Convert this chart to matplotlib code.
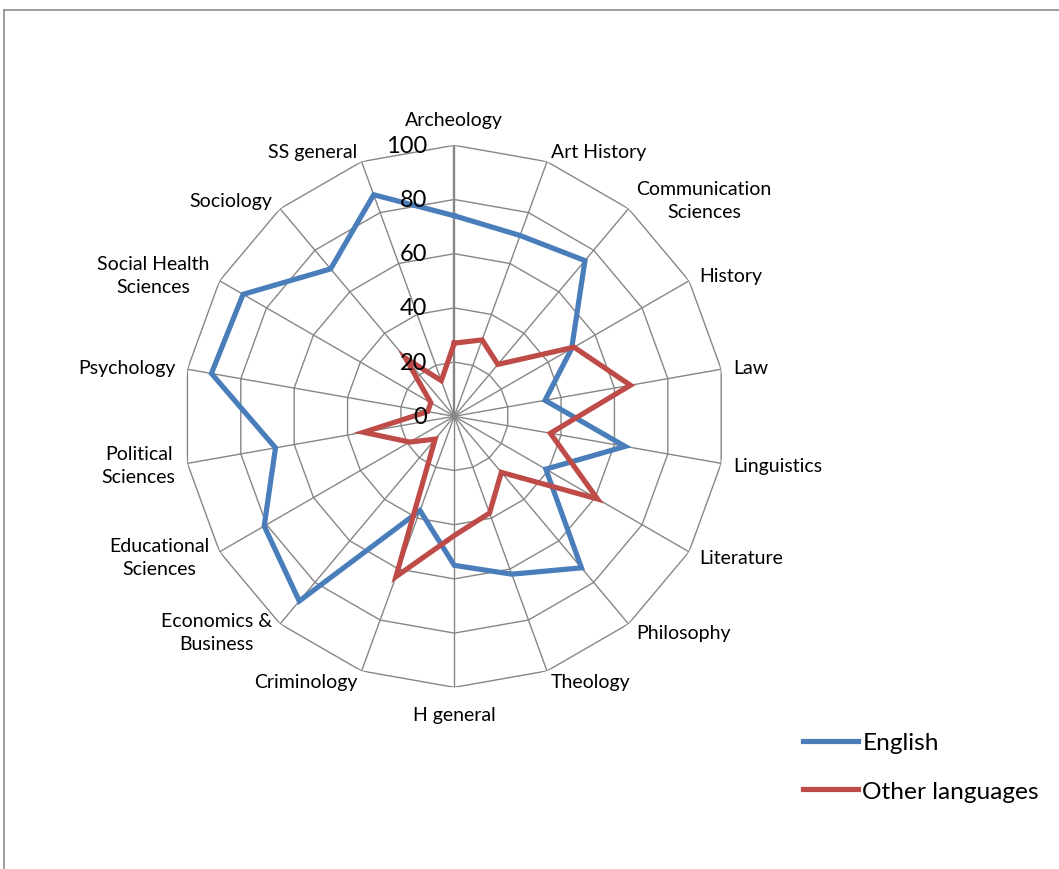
import numpy as np
import matplotlib
matplotlib.use("Agg")
import matplotlib.pyplot as plt
from matplotlib.lines import Line2D

categories = ["Archeology", "Art History", "Communication\nSciences", "History", "Law",
              "Linguistics", "Literature", "Philosophy", "Theology", "H general",
              "Criminology", "Economics &\nBusiness", "Educational\nSciences",
              "Political\nSciences", "Psychology", "Social Health\nSciences",
              "Sociology", "SS general"]
english = [74, 71, 75, 50, 34, 64, 39, 73, 62, 55, 37, 89, 81, 67, 91, 90, 71, 87]
other_languages = [27, 30, 25, 51, 66, 36, 61, 27, 38, 44, 63, 11, 19, 34, 10, 10, 28, 14]
radial_ticks = [0, 20, 40, 60, 80, 100]
series_names = ["English", "Other languages"]

FONT = ["Lato", "DejaVu Sans"]
plt.rcParams["font.family"] = FONT

W, H, DPI = 1059, 870, 100
fig = plt.figure(figsize=(W / DPI, H / DPI), dpi=DPI)
fig.patch.set_facecolor("white")

cx, cy, R = 454.3, 417.3, 271.0
ax = fig.add_axes([(cx - R) / W, (H - cy - R) / H, 2 * R / W, 2 * R / H], projection="polar")
ax.set_theta_zero_location("N")
ax.set_theta_direction(-1)
ax.set_ylim(0, 100)
ax.grid(False)
ax.spines["polar"].set_visible(False)
ax.set_xticks([])
ax.set_yticks([])
ax.patch.set_alpha(0)

n = len(categories)
theta = np.linspace(0, 2 * np.pi, n, endpoint=False)
theta_closed = np.append(theta, theta[0])
grid_col = "#868686"

# polygon grid
for v in radial_ticks[1:]:
    ax.plot(theta_closed, [v] * (n + 1), color=grid_col, lw=1.0, zorder=1)
# spokes
for i, t in enumerate(theta):
    ax.plot([t, t], [0, 100], color=grid_col, lw=1.7 if i == 0 else 1.0, zorder=1)

px = 0.72  # points per pixel
l1, = ax.plot(theta_closed, english + english[:1], color="#4A7EBB", lw=5.2 * px,
              solid_joinstyle="miter", zorder=3, label=series_names[0])
l2, = ax.plot(theta_closed, other_languages + other_languages[:1], color="#BE4B48",
              lw=5.2 * px, solid_joinstyle="miter", zorder=4, label=series_names[1])

# radial tick labels
for v in radial_ticks:
    ax.annotate(str(v), xy=(0, v), xytext=(-27 * px, 0), textcoords="offset points",
                ha="right", va="center", fontsize=17, color="black", zorder=5,
                annotation_clip=False)

# category labels
for t, lab in zip(theta, categories):
    a = np.degrees(t)
    if abs(a) < 1:
        off, ha = (0, 26), "center"
    elif abs(a - 180) < 1:
        off, ha = (0, -27), "center"
    else:
        off = (12 * np.sin(t), 11 * np.cos(t))
        ha = "left" if a < 180 else "right"
    ax.annotate(lab, xy=(t, 100), xytext=(off[0] * px, off[1] * px),
                textcoords="offset points", ha=ha, va="center", multialignment="center",
                fontsize=14, color="black", linespacing=1.45, annotation_clip=False)

# legend
fig.legend(handles=[l1, l2], labels=series_names, loc="upper left",
           bbox_to_anchor=(791 / W, 1 - 721 / H), frameon=False, fontsize=17.6,
           handlelength=2.25, handletextpad=0.17, labelspacing=1.12, borderpad=0)

# border
fig.add_artist(Line2D([4 / W, 4 / W], [0, 1 - 11 / H], color="#8c8c8c", lw=1.2))
fig.add_artist(Line2D([4 / W, 1], [1 - 11 / H, 1 - 11 / H], color="#8c8c8c", lw=1.2))

fig.savefig("out.png", dpi=DPI, facecolor="white")
